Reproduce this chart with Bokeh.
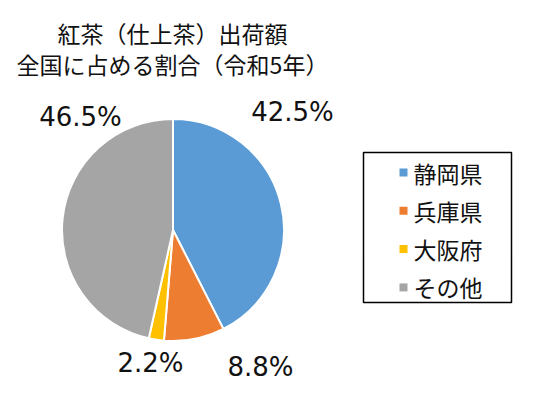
import math
from bokeh.plotting import figure
from bokeh.models import Range1d
from bokeh.core.properties import value
from bokeh.embed import file_html
from bokeh.resources import INLINE

# data
title_lines = ["紅茶（仕上茶）出荷額", "全国に占める割合（令和5年）"]
regions = ["静岡県", "兵庫県", "大阪府", "その他"]
shares = [42.5, 8.8, 2.2, 46.5]
colors = ["#5B9BD5", "#ED7D31", "#FFC000", "#A5A5A5"]

W, H = 545, 406
# data coordinates == picture pixels (y measured upward from bottom of picture)
p = figure(width=529, height=390, output_backend="svg", toolbar_location=None,
           tools="", x_range=Range1d(0, 529), y_range=Range1d(16, 406),
           min_border=0)
p.axis.visible = False
p.grid.visible = False
p.outline_line_color = None
p.background_fill_color = "white"

def sy(y):
    return H - y

cx, cy, r = 172.5, sy(229.5), 111

total = sum(shares)
starts, ends = [], []
acc = 0
for s in shares:
    starts.append(math.pi / 2 - 2 * math.pi * acc / total)
    acc += s
    ends.append(math.pi / 2 - 2 * math.pi * acc / total)

p.wedge(x=cx, y=cy, radius=r, start_angle=starts, end_angle=ends,
        direction="clock", fill_color=colors, line_color="white", line_width=2)

# percentage labels (hand placed like the original)
label_pos = [(292, 111), (260, 366), (150, 362), (80, 116)]
p.text(x=[q[0] for q in label_pos], y=[sy(q[1]) for q in label_pos],
       text=["%.1f%%" % s for s in shares], text_font=value("DejaVu Sans"),
       text_font_size="26px", text_align="center", text_baseline="middle",
       text_color="#111111")

# title
p.text(x=[172, 172], y=[sy(32), sy(63)], text=title_lines,
       text_font=value("Noto Sans CJK JP"), text_font_size="23px",
       text_align="center", text_baseline="middle", text_color="#111111")

# legend
p.quad(left=363, right=511, top=sy(152), bottom=sy(302), fill_color="white",
       line_color="black", line_width=1.5)
row_y = [sy(172 + 38.3 * i) for i in range(len(regions))]
p.scatter(x=[403] * len(regions), y=row_y, marker="square", size=8,
          fill_color=colors, line_color=None)
p.text(x=[413] * len(regions), y=row_y, text=regions,
       text_font=value("Noto Sans CJK JP"), text_font_size="23px",
       text_align="left", text_baseline="middle", text_color="#111111")

open("out.html", "w").write(file_html(p, INLINE))
